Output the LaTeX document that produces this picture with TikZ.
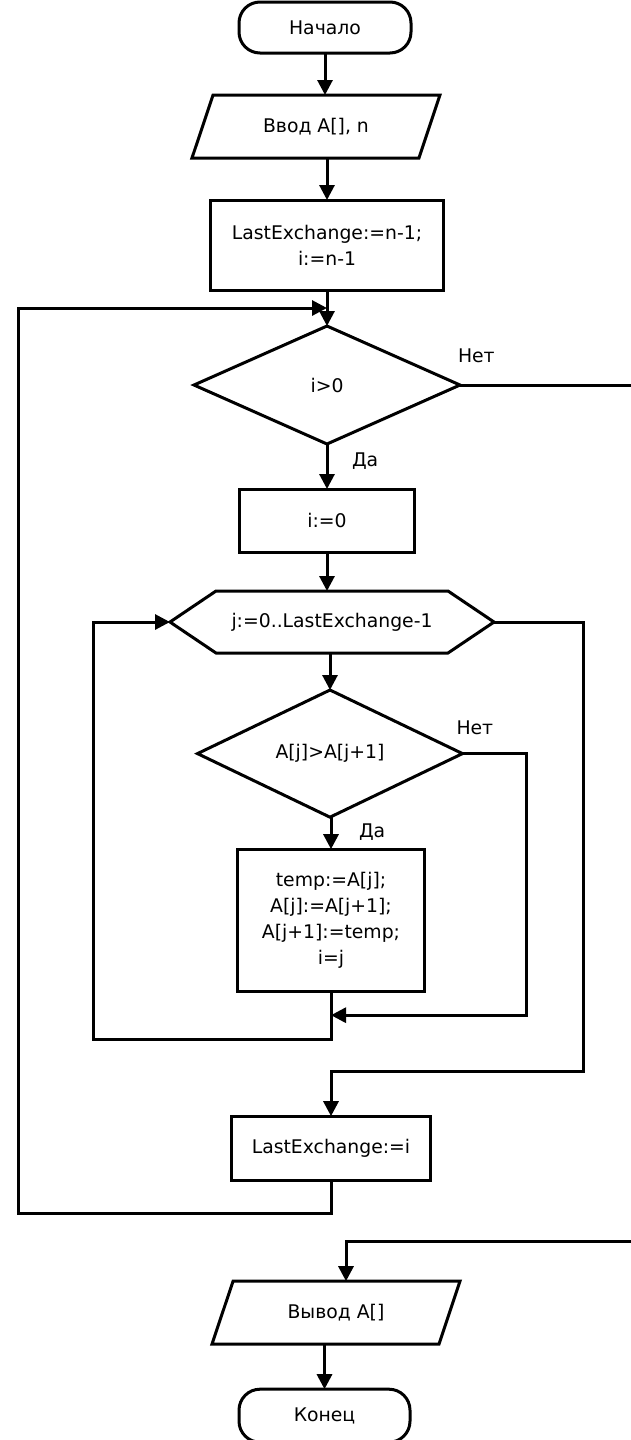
\documentclass[tikz,border=0pt]{standalone}
\usepackage{fontspec}
\setmainfont{DejaVu Sans}
\usetikzlibrary{positioning,shapes.geometric,calc}
\usetikzlibrary{arrows.meta}

\begin{document}
\begin{tikzpicture}[
  font = \fontsize{18.8pt}{26pt}\selectfont,
  line width = 3pt,
  every node/.style = {
    inner sep = 0pt,
    outer sep = 0pt,
  },
  term/.style = {
    draw,
    rectangle,
    rounded corners = 21pt,
    minimum width = 172pt,
    minimum height = 51pt,
  },
  io/.style = {
    draw,
    trapezium,
    trapezium left angle = 71.5,
    trapezium right angle = 108.5,
    trapezium stretches body,
    inner ysep = 23pt,
    minimum width = 248pt,
    minimum height = 63pt,
  },
  proc/.style = {
    draw,
    rectangle,
    align = center,
  },
  cond/.style = {
    draw,
    diamond,
    minimum width = 266pt,
    minimum height = 118pt,
  },
  loopbody/.style = {
    rectangle,
    minimum width = 232pt,
    minimum height = 62pt,
  },
  lbl/.style = {
    inner sep = 0pt,
  },
  >={Triangle[length=15pt,width=15pt]},
]

  \useasboundingbox (0,0) rectangle (631pt,-1440pt);

  \node[term] (start) at (325pt,-27.5pt) {Начало};
  \node[io] (input) [below=42pt of start, xshift=-9pt] {Ввод A[], n};
  \node[proc, minimum width=233pt, minimum height=90pt] (init) [below=42pt of input, xshift=11pt] {LastExchange:=n-1;\\ i:=n-1};
  \node[cond] (cond1) [below=36pt of init] {i>0};
  \node[proc, minimum width=175pt, minimum height=63pt] (setzero) [below=45pt of cond1] {i:=0};
  \node[loopbody] (loop) [below=39pt of setzero, xshift=5pt] {j:=0..LastExchange-1};
  \node[cond, minimum width=265pt, minimum height=119pt] (cond2) [below=37pt of loop, xshift=-2pt] {A[j]>A[j+1]};
  \node[proc, minimum width=187pt, minimum height=142pt] (swap) [below=32pt of cond2, xshift=1pt] {temp:=A[j];\\ A[j]:=A[j+1];\\ A[j+1]:=temp;\\ i=j};
  \node[proc, minimum width=199pt, minimum height=64pt] (update) [below=125pt of swap] {LastExchange:=i};
  \node[io] (output) [below=101pt of update, xshift=5pt] {Вывод A[]};
  \node[term, minimum width=171pt, minimum height=53pt] (finish) [below=45pt of output, xshift=-11.5pt] {Конец};

  % hexagon of the for-loop
  \draw (loop.north west) -- (loop.north east) -- ($(loop.east)+(46pt,0)$) coordinate (loopR)
    -- (loop.south east) -- (loop.south west) -- ($(loop.west)+(-46pt,0)$) coordinate (loopL) -- cycle;

  \node[lbl] (no1) [above right=22pt and -2pt of cond1.east] {Нет};
  \node[lbl] (yes1) [below right=9pt and 25pt of cond1.south] {Да};
  \node[lbl] (no2) [above right=19pt and -6pt of cond2.east] {Нет};
  \node[lbl] (yes2) [below right=7pt and 29pt of cond2.south] {Да};

  \coordinate (join1) at ($(init.south)!0.5!(cond1.north)$);

  \draw[->] (start) -- (start |- input.north);
  \draw[->] (init.north |- input.south) -- (init.north);
  \draw[->] (init) -- (cond1);
  \draw[->] (cond1) -- (setzero);
  \draw[->] (setzero.south) -- (setzero.south |- loop.north);
  \draw[->] (cond2.north |- loop.south) -- (cond2.north);
  \draw[->] (swap.north |- cond2.south) -- (swap.north);

  \draw[->] (cond2.east) -- ++(63.5pt,0) |- ([yshift=-24pt]swap.south);
  \draw[->] (swap.south) -- ++(0,-48pt) -| ([xshift=-77pt]loopL) -- (loopL);
  \draw[->] (loopR) -- ++(89pt,0) |- ([yshift=45pt]update.north) -- (update.north);
  \draw[->] (update.south) -- ++(0,-33pt) -| ([xshift=-309pt]join1) -- (join1);

  \draw[->] (cond1.east) -- ++(181pt,0) |- ([xshift=10pt,yshift=40pt]output.north) -- ([xshift=10pt]output.north);
  \draw[->] (finish.north |- output.south) -- (finish.north);

\end{tikzpicture}
\end{document}
